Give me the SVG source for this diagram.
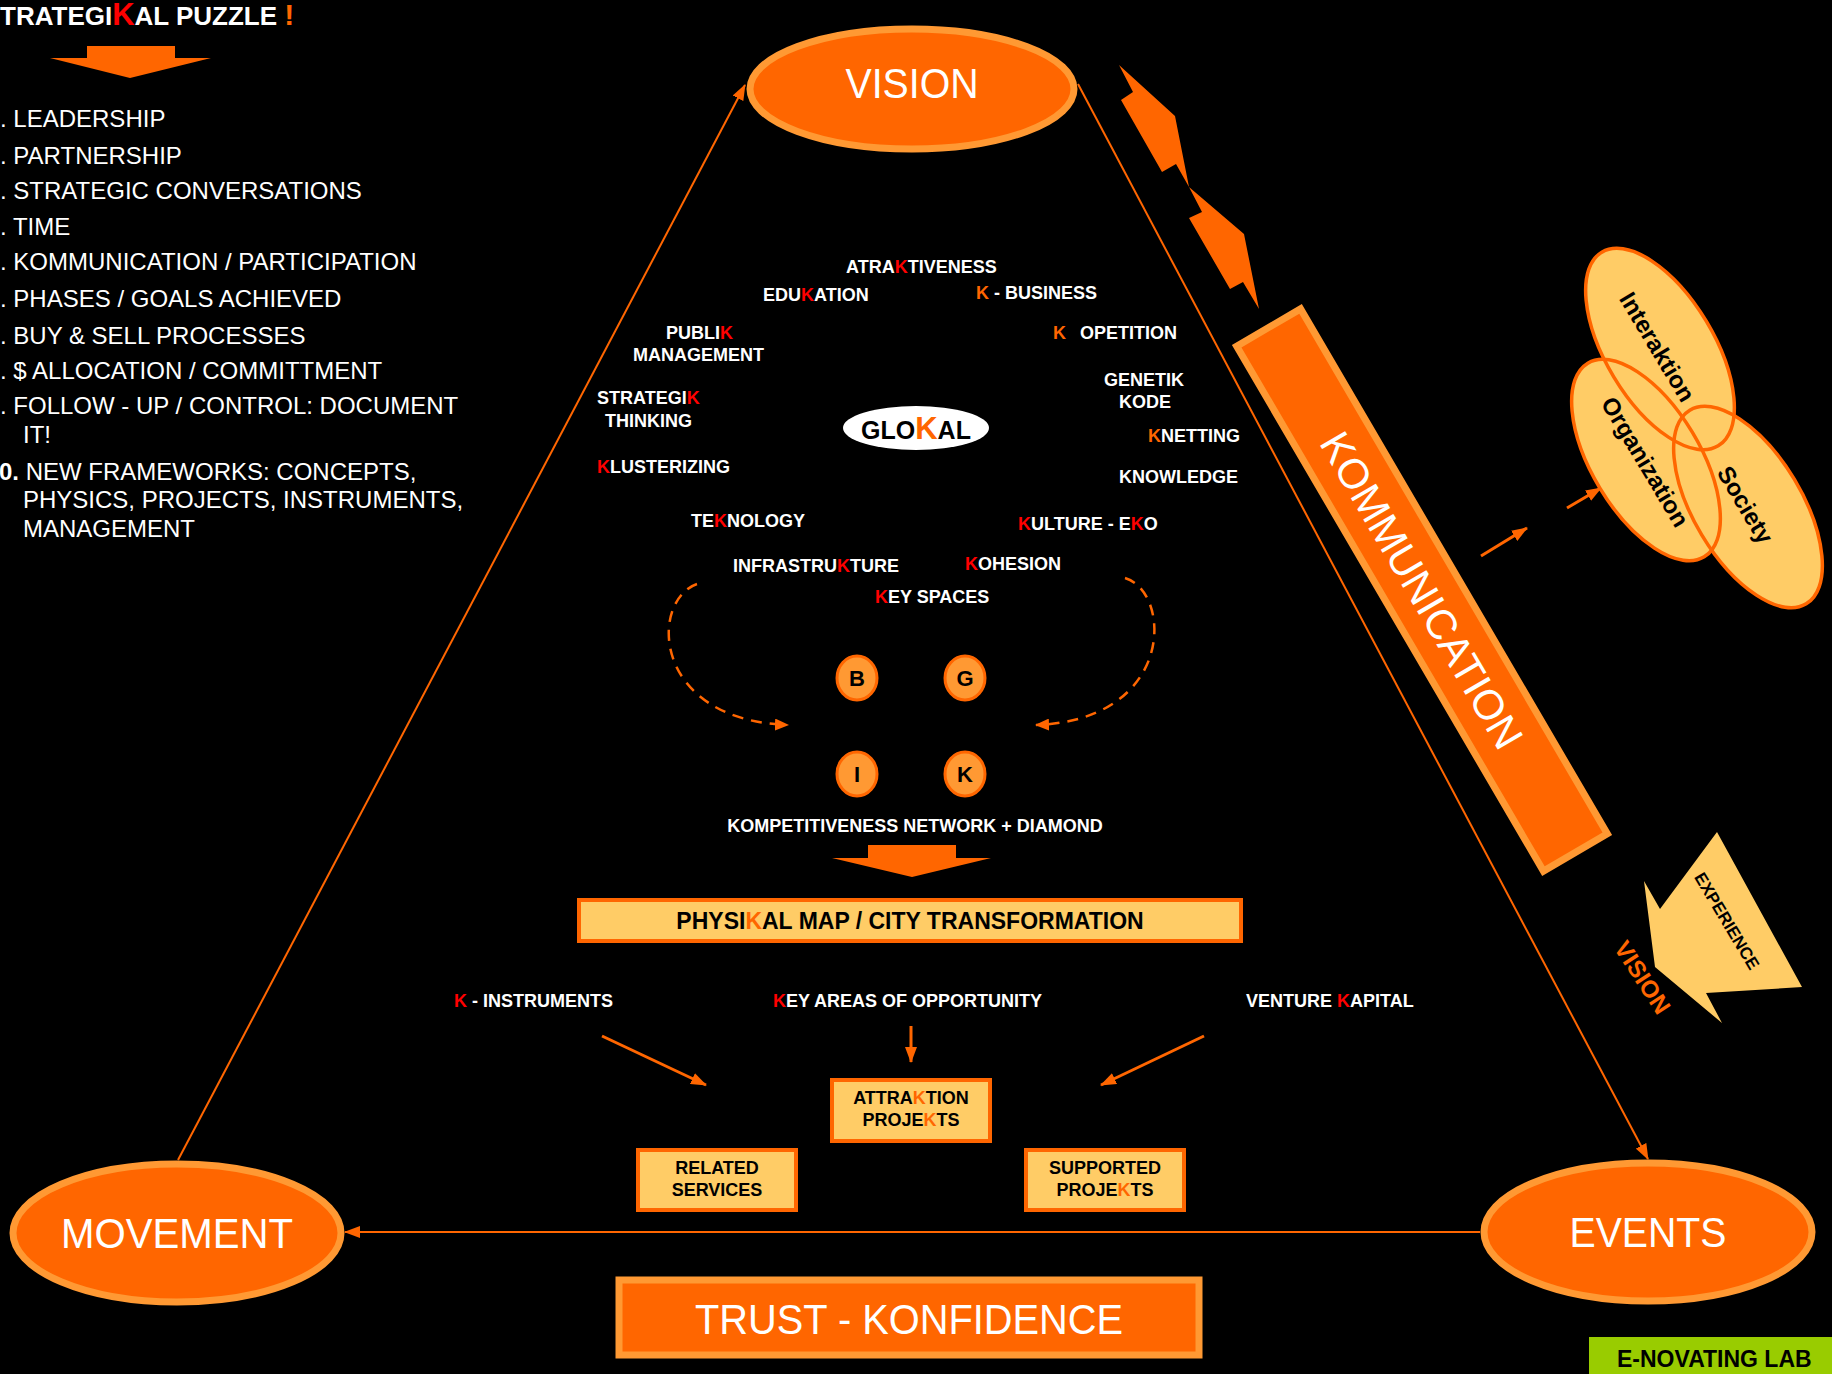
<svg xmlns="http://www.w3.org/2000/svg" width="1832" height="1374" viewBox="0 0 1832 1374">
<defs>
<style>
text{font-family:"Liberation Sans",Arial,Helvetica,sans-serif}
.lbl{fill:#fff;font-weight:bold;font-size:18px}
.list{fill:#fff;font-size:24px}
.r{fill:#FF0000}
.o{fill:#FF6600}
.big{fill:#fff;font-size:42px;text-anchor:middle}
.dk{fill:#000;font-weight:bold;font-size:18px;text-anchor:middle}
.oval{fill:#FF6600;stroke:#FF9933;stroke-width:7}
.box{fill:#FFCC66;stroke:#FF6600;stroke-width:4}
.ln{stroke:#FF6600;stroke-width:2;fill:none}
.dash{stroke:#FF6600;stroke-width:2.5;fill:none;stroke-dasharray:11 8}
.ar{stroke:#FF6600;stroke-width:3;fill:none}
.venn{fill:#FFCC66}
.vennl{fill:none;stroke:#FF6600;stroke-width:3.5}
.vt{fill:#000;font-weight:bold;font-size:24px;text-anchor:middle}
.circ{fill:#FF9933;stroke:#FF6600;stroke-width:3}
.ct{fill:#000;font-weight:bold;font-size:22px;text-anchor:middle}
</style>
<marker id="ah" markerWidth="16" markerHeight="12" refX="15" refY="6" orient="auto" markerUnits="userSpaceOnUse"><path d="M0,0 L16,6 L0,12 z" fill="#FF6600"/></marker>
<marker id="ahs" markerWidth="14" markerHeight="12" refX="13" refY="6" orient="auto" markerUnits="userSpaceOnUse"><path d="M0,0 L14,6 L0,12 z" fill="#FF6600"/></marker>
</defs>
<rect width="1832" height="1374" fill="#000"/>

<g id="title">
<text x="0" y="25" font-weight="bold" font-size="26" fill="#fff">TRATEGI<tspan class="r" font-size="31">K</tspan>AL PUZZLE <tspan class="o" font-size="30">!</tspan></text>
<polygon points="87,46 175,46 175,58 211,58 130,78 50,58 87,58" fill="#FF6600"/>
</g>

<g id="list">
<text class="list" x="0" y="127">. LEADERSHIP</text>
<text class="list" x="0" y="164">. PARTNERSHIP</text>
<text class="list" x="0" y="199">. STRATEGIC CONVERSATIONS</text>
<text class="list" x="0" y="235">. TIME</text>
<text class="list" x="0" y="270">. KOMMUNICATION / PARTICIPATION</text>
<text class="list" x="0" y="307">. PHASES / GOALS ACHIEVED</text>
<text class="list" x="0" y="344">. BUY &amp; SELL PROCESSES</text>
<text class="list" x="0" y="379">. $ ALLOCATION / COMMITTMENT</text>
<text class="list" x="0" y="414">. FOLLOW - UP / CONTROL: DOCUMENT</text>
<text class="list" x="23" y="443">IT!</text>
<text class="list" x="-1" y="480"><tspan font-weight="bold">0.</tspan> NEW FRAMEWORKS: CONCEPTS,</text>
<text class="list" x="23" y="508">PHYSICS, PROJECTS, INSTRUMENTS,</text>
<text class="list" x="23" y="537">MANAGEMENT</text>
</g>

<g id="connectors">
<line class="ln" x1="178" y1="1160" x2="745" y2="85" marker-end="url(#ah)"/>
<line class="ln" x1="1078" y1="84" x2="1648" y2="1159" marker-end="url(#ah)"/>
<line class="ln" x1="1480" y1="1232" x2="345" y2="1232" stroke-width="3" marker-end="url(#ah)"/>
<path class="dash" d="M697,584 C650,600 650,720 788,725" marker-end="url(#ahs)"/>
<path class="dash" d="M1125,578 C1172,592 1176,720 1036,725" marker-end="url(#ahs)"/>
<line class="ar" x1="602" y1="1036" x2="706" y2="1085" marker-end="url(#ah)"/>
<line class="ar" x1="911" y1="1026" x2="911" y2="1062" marker-end="url(#ah)"/>
<line class="ar" x1="1204" y1="1036" x2="1101" y2="1085" marker-end="url(#ah)"/>
<line class="ar" x1="1481" y1="556" x2="1527" y2="528" marker-end="url(#ah)"/>
<line class="ar" x1="1567" y1="508" x2="1601" y2="488" marker-end="url(#ah)"/>
</g>

<g id="vision">
<ellipse class="oval" cx="912" cy="89" rx="162" ry="60"/>
<text class="big" x="912" y="98" textLength="133" lengthAdjust="spacingAndGlyphs">VISION</text>
</g>
<g id="movement">
<ellipse class="oval" cx="177" cy="1233" rx="164" ry="69"/>
<text class="big" x="177" y="1248" textLength="232" lengthAdjust="spacingAndGlyphs">MOVEMENT</text>
</g>
<g id="events">
<ellipse class="oval" cx="1648" cy="1232" rx="164" ry="69"/>
<text class="big" x="1648" y="1247" textLength="157" lengthAdjust="spacingAndGlyphs">EVENTS</text>
</g>

<g id="bolt" fill="#FF6600">
<polygon points="1119,65 1175,116 1189,187 1176,164 1162,172 1121,100 1133,92"/>
<polygon points="1189,187 1244,234 1259,309 1243,282 1230,289 1189,218 1202,212"/>
</g>

<g id="kommunication" transform="translate(1422,590) rotate(59.7)">
<rect x="-304" y="-37" width="608" height="74" fill="#FF6600" stroke="#FF9933" stroke-width="7"/>
<text class="big" x="0" y="15">KOMMUNICATION</text>
</g>

<g id="venn">
<ellipse class="venn" cx="1660" cy="349" rx="113" ry="54" transform="rotate(59 1660 349)"/>
<ellipse class="venn" cx="1646" cy="460" rx="113" ry="54" transform="rotate(59 1646 460)"/>
<ellipse class="venn" cx="1748" cy="507" rx="113" ry="54" transform="rotate(59 1748 507)"/>
<ellipse class="vennl" cx="1660" cy="349" rx="113" ry="54" transform="rotate(59 1660 349)"/>
<ellipse class="vennl" cx="1646" cy="460" rx="113" ry="54" transform="rotate(59 1646 460)"/>
<ellipse class="vennl" cx="1748" cy="507" rx="113" ry="54" transform="rotate(59 1748 507)"/>
<text class="vt" x="1657" y="355" transform="rotate(59 1657 347)">Interaktion</text>
<text class="vt" x="1645" y="470" transform="rotate(59 1645 462)">Organization</text>
<text class="vt" x="1745" y="513" transform="rotate(59 1745 505)">Society</text>
</g>

<g id="experience">
<polygon points="1717,832 1802,987 1706,993 1722,1023 1655,967 1644,881 1660,909" fill="#FFCC66"/>
<text x="1727" y="927" transform="rotate(59 1727 921)" font-weight="bold" font-size="17" text-anchor="middle" fill="#000">EXPERIENCE</text>
<text x="1643" y="986" transform="rotate(57 1643 977)" font-weight="bold" font-size="24" text-anchor="middle" fill="#FF6600">VISION</text>
</g>

<g id="keywords">
<text class="lbl" x="846" y="273">ATRA<tspan class="r">K</tspan>TIVENESS</text>
<text class="lbl" x="763" y="301">EDU<tspan class="r">K</tspan>ATION</text>
<text class="lbl" x="976" y="299"><tspan class="o">K</tspan> - BUSINESS</text>
<text class="lbl" x="666" y="339">PUBLI<tspan class="r">K</tspan></text>
<text class="lbl" x="633" y="361">MANAGEMENT</text>
<text class="lbl" x="1053" y="339"><tspan class="o">K</tspan></text>
<text class="lbl" x="1080" y="339">OPETITION</text>
<text class="lbl" x="1104" y="386">GENETIK</text>
<text class="lbl" x="1119" y="408">KODE</text>
<text class="lbl" x="597" y="404">STRATEGI<tspan class="r">K</tspan></text>
<text class="lbl" x="605" y="427">THINKING</text>
<text class="lbl" x="1148" y="442"><tspan class="o">K</tspan>NETTING</text>
<text class="lbl" x="597" y="473"><tspan class="r">K</tspan>LUSTERIZING</text>
<text class="lbl" x="1119" y="483">KNOWLEDGE</text>
<text class="lbl" x="691" y="527">TE<tspan class="r">K</tspan>NOLOGY</text>
<text class="lbl" x="1018" y="530"><tspan class="r">K</tspan>ULTURE - E<tspan class="r">K</tspan>O</text>
<text class="lbl" x="733" y="572">INFRASTRU<tspan class="r">K</tspan>TURE</text>
<text class="lbl" x="965" y="570"><tspan class="r">K</tspan>OHESION</text>
<text class="lbl" x="875" y="603"><tspan class="r">K</tspan>EY SPACES</text>
</g>

<g id="glokal">
<ellipse cx="916" cy="428" rx="73" ry="22" fill="#fff"/>
<text x="916" y="439" font-weight="bold" font-size="25" text-anchor="middle" fill="#000">GLO<tspan class="o" font-size="31">K</tspan>AL</text>
</g>

<g id="big4">
<ellipse class="circ" cx="857" cy="678" rx="20" ry="22"/><text class="ct" x="857" y="686">B</text>
<ellipse class="circ" cx="965" cy="678" rx="20" ry="22"/><text class="ct" x="965" y="686">G</text>
<ellipse class="circ" cx="857" cy="774" rx="20" ry="22"/><text class="ct" x="857" y="782">I</text>
<ellipse class="circ" cx="965" cy="774" rx="20" ry="22"/><text class="ct" x="965" y="782">K</text>
</g>

<g id="kompetitiveness">
<text class="lbl" x="915" y="832" text-anchor="middle">KOMPETITIVENESS NETWORK + DIAMOND</text>
<polygon points="868,845 956,845 956,858 991,858 912,877 832,858 868,858" fill="#FF6600"/>
</g>

<g id="physikal">
<rect class="box" x="579" y="900" width="662" height="41"/>
<text x="910" y="929" font-weight="bold" font-size="23" text-anchor="middle" fill="#000">PHYSI<tspan class="o">K</tspan>AL MAP / CITY TRANSFORMATION</text>
</g>

<g id="sources">
<text class="lbl" x="454" y="1007"><tspan class="r">K</tspan> - INSTRUMENTS</text>
<text class="lbl" x="773" y="1007"><tspan class="r">K</tspan>EY AREAS OF OPPORTUNITY</text>
<text class="lbl" x="1246" y="1007">VENTURE <tspan class="r">K</tspan>APITAL</text>
</g>

<g id="attraktion">
<rect class="box" x="832" y="1080" width="158" height="61"/>
<text class="dk" x="911" y="1104">ATTRA<tspan class="o">K</tspan>TION</text>
<text class="dk" x="911" y="1126">PROJE<tspan class="o">K</tspan>TS</text>
</g>
<g id="related">
<rect class="box" x="638" y="1150" width="158" height="60"/>
<text class="dk" x="717" y="1174">RELATED</text>
<text class="dk" x="717" y="1196">SERVICES</text>
</g>
<g id="supported">
<rect class="box" x="1026" y="1150" width="158" height="60"/>
<text class="dk" x="1105" y="1174">SUPPORTED</text>
<text class="dk" x="1105" y="1196">PROJE<tspan class="o">K</tspan>TS</text>
</g>

<g id="trust">
<rect x="619" y="1280" width="580" height="75" fill="#FF6600" stroke="#FF9933" stroke-width="7"/>
<text class="big" x="909" y="1334" font-size="41" textLength="428" lengthAdjust="spacingAndGlyphs">TRUST - KONFIDENCE</text>
</g>

<g id="lab">
<rect x="1589" y="1337" width="243" height="37" fill="#99CC00"/>
<text x="1617" y="1367" font-weight="bold" font-size="23" fill="#000">E-NOVATING LAB</text>
</g>
</svg>
